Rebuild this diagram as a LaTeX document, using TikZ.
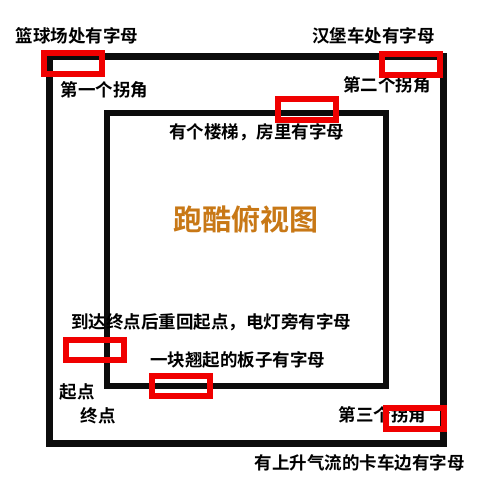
\documentclass[tikz,border=0pt]{standalone}
\usepackage{fontspec}
\newfontfamily\cjk{Noto Sans CJK SC}[BoldFont={Noto Sans CJK SC Bold}]
\definecolor{titlec}{RGB}{200,120,22}
\definecolor{boxred}{RGB}{240,0,0}
\definecolor{wallc}{RGB}{12,12,12}
\tikzset{
  wall/.style={draw=wallc, line width=7pt, line join=miter},
  innerwall/.style={draw=wallc, line width=6pt, line join=miter},
  mark box/.style={draw=boxred, line width=5.5pt},
  lbl/.style={font=\cjk\bfseries\fontsize{17.5}{18}\selectfont, inner sep=0pt, text=black},
  ttl/.style={font=\cjk\bfseries\fontsize{29}{30}\selectfont, inner sep=0pt, text=titlec}
}
\begin{document}
\begin{tikzpicture}[x=1pt,y=-1pt]
\useasboundingbox (0,0) rectangle (500,500);
\fill[white] (0,0) rectangle (500,500);
% walls
\draw[wall] (49.5,57) rectangle (443,443);
\draw[innerwall] (107,113) rectangle (385.5,385.5);
% labels
\node[lbl] (t1) at (77,35.5) {篮球场处有字母};
\node[lbl] (t2) at (104.5,89.5) {第一个拐角};
\node[lbl] (t3) at (373.5,35.5) {汉堡车处有字母};
\node[lbl] (t4) at (387,85) {第二个拐角};
\node[lbl] (t5) at (256.5,132.5) {有个楼梯，房里有字母};
\node[ttl] (title) at (245.5,219) {跑酷俯视图};
\node[lbl] (t6) at (211,322.5) {到达终点后重回起点，电灯旁有字母};
\node[lbl] (t7) at (237.5,359.5) {一块翘起的板子有字母};
\node[lbl] (t8) at (77,392) {起点};
\node[lbl] (t9) at (98,415.5) {终点};
\node[lbl] (t10) at (382.5,414.5) {第三个拐角};
\node[lbl] (t11) at (359.5,462.5) {有上升气流的卡车边有字母};
% red marker boxes
\draw[mark box] (44,53) rectangle (102,74);
\draw[mark box] (382,54) rectangle (440,75);
\draw[mark box] (278,99) rectangle (336,120);
\draw[mark box] (66,340) rectangle (124,360);
\draw[mark box] (152,376) rectangle (210,396);
\draw[mark box] (386,408) rectangle (444,429);
\end{tikzpicture}
\end{document}
